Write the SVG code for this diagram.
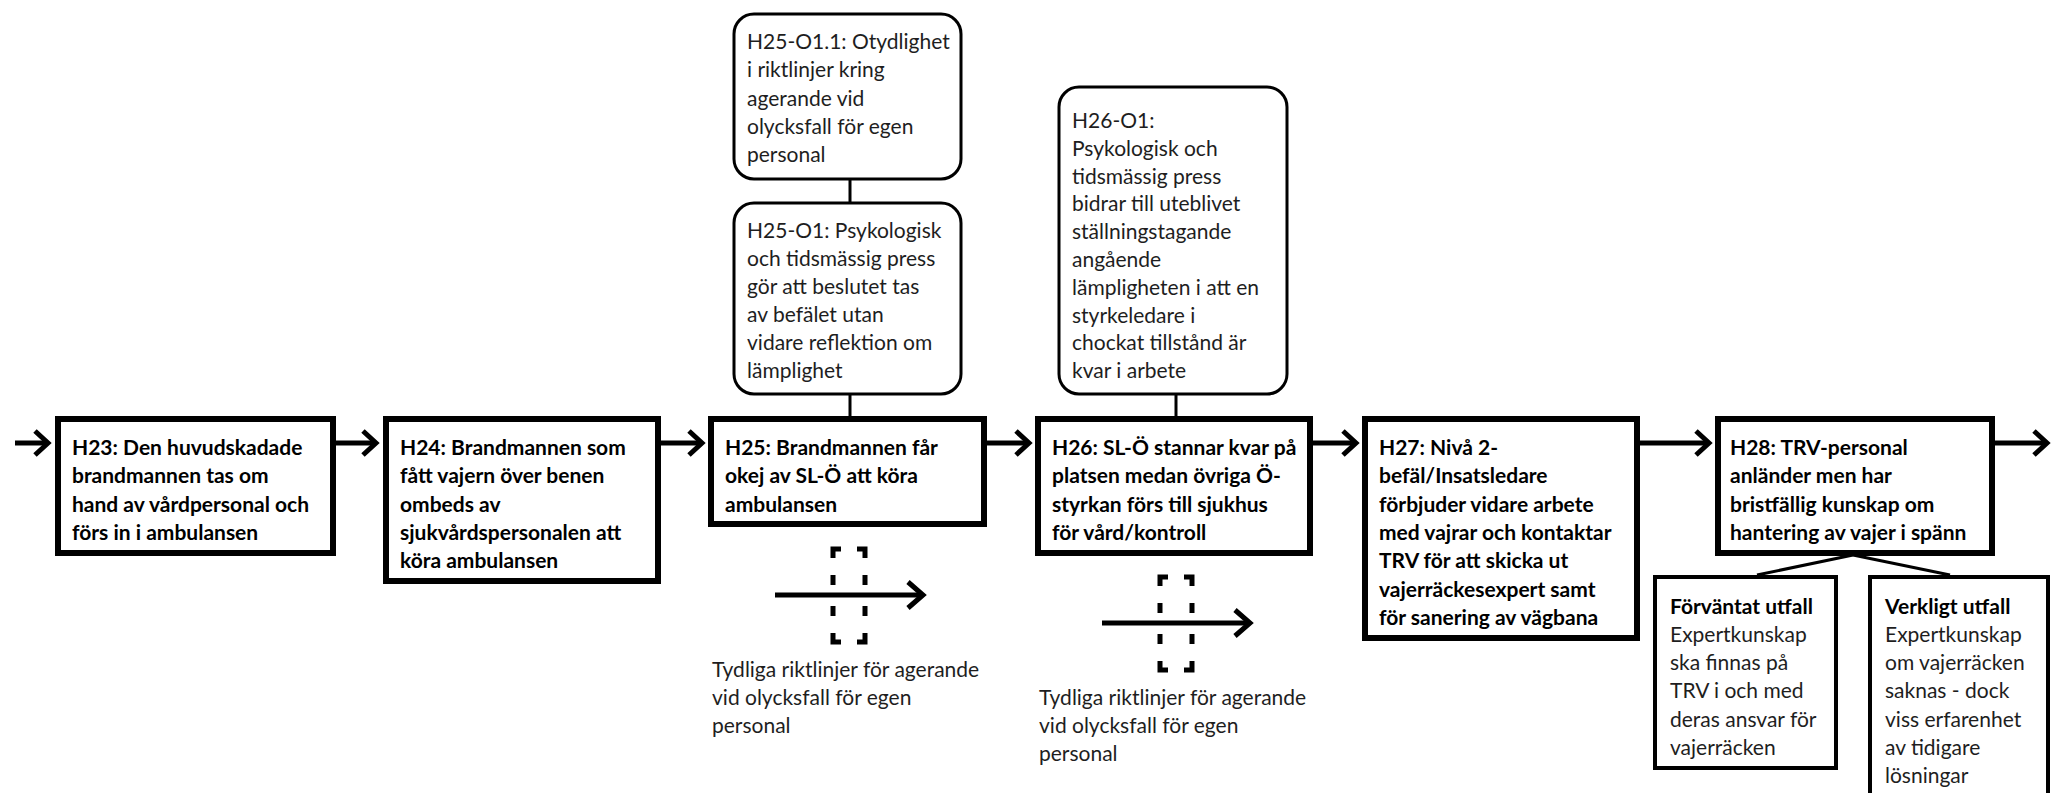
<svg xmlns="http://www.w3.org/2000/svg" width="2052" height="793" viewBox="0 0 2052 793">
  <defs>
    <style>
      .box { fill: #fff; stroke: #000; stroke-width: 6; }
      .sub { fill: #fff; stroke: #000; stroke-width: 4; }
      .obox { fill: #fff; stroke: #000; stroke-width: 3; }
      .link { fill: none; stroke: #000; stroke-width: 3; }
      .flow { fill: none; stroke: #000; stroke-width: 5; marker-end: url(#chev); }
      .bflow { fill: none; stroke: #000; stroke-width: 5; marker-end: url(#chev2); }
      .dash { fill: none; stroke: #000; stroke-width: 5; }
      .b { font-family: Lato, "Liberation Sans", sans-serif; font-weight: bold; font-size: 21px; fill: #000; }
      .t { font-family: Lato, "Liberation Sans", sans-serif; font-size: 21px; fill: #1e1e1e; }
    </style>
    <marker id="chev" viewBox="0 0 20 30" refX="16" refY="15" markerWidth="20" markerHeight="30" markerUnits="userSpaceOnUse" orient="auto">
      <path d="M3,3 L16,15 L3,27" fill="none" stroke="#000" stroke-width="5"/>
    </marker>
    <marker id="chev2" viewBox="0 0 22 30" refX="18" refY="15" markerWidth="22" markerHeight="30" markerUnits="userSpaceOnUse" orient="auto">
      <path d="M3,2 L18,15 L3,28" fill="none" stroke="#000" stroke-width="5"/>
    </marker>
  </defs>

  <rect width="2052" height="793" fill="#fff"/>

  <!-- connectors -->
  <g id="connectors">
    <path class="flow" d="M15,443 H48"/>
    <path class="flow" d="M336,443 H376"/>
    <path class="flow" d="M661,443 H702"/>
    <path class="flow" d="M987,443 H1029"/>
    <path class="flow" d="M1313,443 H1356"/>
    <path class="flow" d="M1640,443 H1709"/>
    <path class="flow" d="M1995,443 H2047"/>
    <path class="link" d="M850,180 V202"/>
    <path class="link" d="M850,395 V417"/>
    <path class="link" d="M1176,395 V417"/>
    <path class="link" d="M1853,555 L1757,575"/>
    <path class="link" d="M1853,555 L1950,575"/>
  </g>

  <!-- main event chain -->
  <g id="H23">
    <rect class="box" x="58" y="419" width="275" height="134"/>
    <text class="b"><tspan x="72" y="455">H23: Den huvudskadade</tspan><tspan x="72" y="483.3">brandmannen tas om</tspan><tspan x="72" y="511.6">hand av vårdpersonal och</tspan><tspan x="72" y="539.9">förs in i ambulansen</tspan></text>
  </g>
  <g id="H24">
    <rect class="box" x="386" y="419" width="272" height="162"/>
    <text class="b"><tspan x="400" y="455">H24: Brandmannen som</tspan><tspan x="400" y="483.3">fått vajern över benen</tspan><tspan x="400" y="511.6">ombeds av</tspan><tspan x="400" y="539.9">sjukvårdspersonalen att</tspan><tspan x="400" y="568.2">köra ambulansen</tspan></text>
  </g>
  <g id="H25">
    <rect class="box" x="711" y="419" width="273" height="105"/>
    <text class="b"><tspan x="725" y="455">H25: Brandmannen får</tspan><tspan x="725" y="483.3">okej av SL-Ö att köra</tspan><tspan x="725" y="511.6">ambulansen</tspan></text>
  </g>
  <g id="H26">
    <rect class="box" x="1038" y="419" width="272" height="134"/>
    <text class="b"><tspan x="1052" y="455">H26: SL-Ö stannar kvar på</tspan><tspan x="1052" y="483.3">platsen medan övriga Ö-</tspan><tspan x="1052" y="511.6">styrkan förs till sjukhus</tspan><tspan x="1052" y="539.9">för vård/kontroll</tspan></text>
  </g>
  <g id="H27">
    <rect class="box" x="1365" y="419" width="272" height="219"/>
    <text class="b"><tspan x="1379" y="455">H27: Nivå 2-</tspan><tspan x="1379" y="483.3">befäl/Insatsledare</tspan><tspan x="1379" y="511.6">förbjuder vidare arbete</tspan><tspan x="1379" y="539.9">med vajrar och kontaktar</tspan><tspan x="1379" y="568.2">TRV för att skicka ut</tspan><tspan x="1379" y="596.5">vajerräckesexpert samt</tspan><tspan x="1379" y="624.8">för sanering av vägbana</tspan></text>
  </g>
  <g id="H28">
    <rect class="box" x="1718" y="419" width="274" height="134"/>
    <text class="b"><tspan x="1730" y="455">H28: TRV-personal</tspan><tspan x="1730" y="483.3">anländer men har</tspan><tspan x="1730" y="511.6">bristfällig kunskap om</tspan><tspan x="1730" y="539.9">hantering av vajer i spänn</tspan></text>
  </g>

  <!-- contributing factors -->
  <g id="H25-O1.1">
    <rect class="obox" x="734" y="14" width="227" height="165" rx="20"/>
    <text class="t"><tspan x="747" y="49">H25-O1.1: Otydlighet</tspan><tspan x="747" y="77.3">i riktlinjer kring</tspan><tspan x="747" y="105.6">agerande vid</tspan><tspan x="747" y="133.9">olycksfall för egen</tspan><tspan x="747" y="162.2">personal</tspan></text>
  </g>
  <g id="H25-O1">
    <rect class="obox" x="734" y="203" width="227" height="191" rx="20"/>
    <text class="t"><tspan x="747" y="238">H25-O1: Psykologisk</tspan><tspan x="747" y="266">och tidsmässig press</tspan><tspan x="747" y="294">gör att beslutet tas</tspan><tspan x="747" y="322">av befälet utan</tspan><tspan x="747" y="350">vidare reflektion om</tspan><tspan x="747" y="378">lämplighet</tspan></text>
  </g>
  <g id="H26-O1">
    <rect class="obox" x="1059" y="87" width="228" height="307" rx="20"/>
    <text class="t"><tspan x="1072" y="128">H26-O1:</tspan><tspan x="1072" y="155.8">Psykologisk och</tspan><tspan x="1072" y="183.6">tidsmässig press</tspan><tspan x="1072" y="211.4">bidrar till uteblivet</tspan><tspan x="1072" y="239.2">ställningstagande</tspan><tspan x="1072" y="267">angående</tspan><tspan x="1072" y="294.8">lämpligheten i att en</tspan><tspan x="1072" y="322.6">styrkeledare i</tspan><tspan x="1072" y="350.4">chockat tillstånd är</tspan><tspan x="1072" y="378.2">kvar i arbete</tspan></text>
  </g>

  <!-- missing barriers -->
  <g id="barrier-H25">
    <path class="dash" d="M833,558 V549 H841 M857,549 H865 V558 M833,575 V585 M865,575 V585 M833,606 V616 M865,606 V616 M833,633 V642 H841 M857,642 H865 V633"/>
    <path class="bflow" d="M775,595 H923"/>
    <text class="t"><tspan x="712" y="677">Tydliga riktlinjer för agerande</tspan><tspan x="712" y="705">vid olycksfall för egen</tspan><tspan x="712" y="733">personal</tspan></text>
  </g>
  <g id="barrier-H26">
    <path class="dash" d="M1160,586 V577 H1168 M1184,577 H1192 V586 M1160,603 V613 M1192,603 V613 M1160,634 V644 M1192,634 V644 M1160,661 V670 H1168 M1184,670 H1192 V661"/>
    <path class="bflow" d="M1102,623 H1250"/>
    <text class="t"><tspan x="1039" y="705">Tydliga riktlinjer för agerande</tspan><tspan x="1039" y="733">vid olycksfall för egen</tspan><tspan x="1039" y="761">personal</tspan></text>
  </g>

  <!-- outcomes of H28 -->
  <g id="expected">
    <rect class="sub" x="1655" y="577" width="181" height="191"/>
    <text class="t"><tspan class="b" x="1670" y="614">Förväntat utfall</tspan><tspan x="1670" y="642">Expertkunskap</tspan><tspan x="1670" y="670">ska finnas på</tspan><tspan x="1670" y="698">TRV i och med</tspan><tspan x="1670" y="727">deras ansvar för</tspan><tspan x="1670" y="755">vajerräcken</tspan></text>
  </g>
  <g id="actual">
    <rect class="sub" x="1870" y="577" width="178" height="230"/>
    <text class="t"><tspan class="b" x="1885" y="614">Verkligt utfall</tspan><tspan x="1885" y="642">Expertkunskap</tspan><tspan x="1885" y="670">om vajerräcken</tspan><tspan x="1885" y="698">saknas - dock</tspan><tspan x="1885" y="727">viss erfarenhet</tspan><tspan x="1885" y="755">av tidigare</tspan><tspan x="1885" y="783">lösningar</tspan></text>
  </g>
</svg>
